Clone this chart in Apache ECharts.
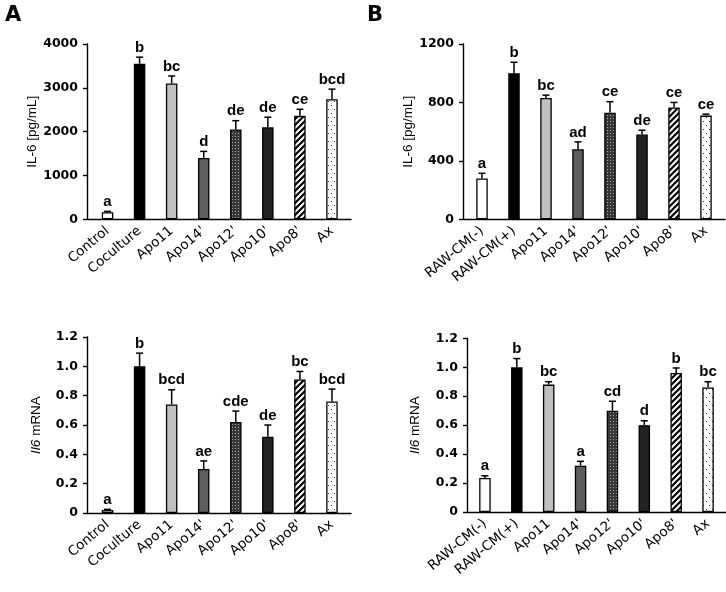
<!DOCTYPE html>
<html>
<head>
<meta charset="utf-8">
<script src="https://cdn.jsdelivr.net/npm/echarts@6/dist/echarts.min.js"></script>
<style>html,body{margin:0;padding:0;background:#fff}#c{width:726px;height:592px}</style>
</head>
<body>
<div id="c"></div>
<script>
// ---------- data ----------
const catsA = ['Control', 'Coculture', 'Apo11', "Apo14'", "Apo12'", "Apo10'", "Apo8'", 'Ax'];
const catsB = ['RAW-CM(-)', 'RAW-CM(+)', 'Apo11', "Apo14'", "Apo12'", "Apo10'", "Apo8'", 'Ax'];

const il6A = [160, 3550, 3100, 1400, 2050, 2100, 2360, 2740];
const il6AErr = [20, 150, 170, 150, 200, 230, 150, 230];
const il6ALetters = ['a', 'b', 'bc', 'd', 'de', 'de', 'ce', 'bcd'];

const il6B = [280, 1000, 830, 480, 730, 580, 765, 710];
const il6BErr = [35, 75, 20, 50, 75, 30, 35, 10];
const il6BLetters = ['a', 'b', 'bc', 'ad', 'ce', 'de', 'ce', 'ce'];

const mrnaA = [0.02, 1.0, 0.74, 0.30, 0.62, 0.52, 0.91, 0.76];
const mrnaAErr = [0.005, 0.09, 0.10, 0.055, 0.075, 0.08, 0.055, 0.085];
const mrnaALetters = ['a', 'b', 'bcd', 'ae', 'cde', 'de', 'bc', 'bcd'];

const mrnaB = [0.235, 1.0, 0.88, 0.32, 0.70, 0.60, 0.96, 0.86];
const mrnaBErr = [0.015, 0.06, 0.02, 0.03, 0.065, 0.03, 0.035, 0.04];
const mrnaBLetters = ['a', 'b', 'bc', 'a', 'cd', 'd', 'b', 'bc'];

const il6Ticks = { A: { max: 4000, interval: 1000 }, B: { max: 1200, interval: 400 } };
const mrnaTicks = { max: 1.2, interval: 0.2 };

// ---------- styles ----------
function pattern(kind) {
  const c = document.createElement('canvas');
  const ctx = c.getContext('2d');
  if (kind === 'darkdots') {
    c.width = 3; c.height = 3;
    ctx.fillStyle = '#383838'; ctx.fillRect(0, 0, 3, 3);
    ctx.fillStyle = '#a8a8a8'; ctx.fillRect(1, 1, 1, 1);
  } else if (kind === 'stripes') {
    c.width = 6; c.height = 6;
    ctx.fillStyle = '#fff'; ctx.fillRect(0, 0, 6, 6);
    ctx.strokeStyle = '#000'; ctx.lineWidth = 2.2;
    ctx.beginPath();
    ctx.moveTo(-1, 7); ctx.lineTo(7, -1);
    ctx.moveTo(-4, 4); ctx.lineTo(4, -4);
    ctx.moveTo(2, 10); ctx.lineTo(10, 2);
    ctx.stroke();
  } else {
    c.width = 6; c.height = 8;
    ctx.fillStyle = '#fff'; ctx.fillRect(0, 0, 6, 8);
    ctx.fillStyle = '#333'; ctx.fillRect(1, 1, 1, 1); ctx.fillRect(4, 5, 1, 1);
  }
  return { image: c, repeat: 'repeat' };
}
const fills = ['#ffffff', '#000000', '#c0c0c0', '#5e5e5e', pattern('darkdots'), '#232323', pattern('stripes'), pattern('sparse')];

const layout = [
  { axisLeft: 87, barLeft: 91.5, right: 348, top: 44, bottom: 219.3, nameGap: 47 },
  { axisLeft: 463, barLeft: 466, right: 722, top: 44, bottom: 219.3, nameGap: 44 },
  { axisLeft: 87, barLeft: 91.5, right: 348, top: 337, bottom: 513, nameGap: 44 },
  { axisLeft: 467, barLeft: 469, right: 724, top: 338.3, bottom: 512, nameGap: 45 }
];

const panels = [
  { cats: catsA, vals: il6A, errs: il6AErr, letters: il6ALetters, ticks: il6Ticks.A, name: 'IL-6 [pg/mL]', fmt: v => String(v) },
  { cats: catsB, vals: il6B, errs: il6BErr, letters: il6BLetters, ticks: il6Ticks.B, name: 'IL-6 [pg/mL]', fmt: v => String(v) },
  { cats: catsA, vals: mrnaA, errs: mrnaAErr, letters: mrnaALetters, ticks: mrnaTicks, name: '{i|Il6} mRNA', fmt: v => v === 0 ? '0' : v.toFixed(1) },
  { cats: catsB, vals: mrnaB, errs: mrnaBErr, letters: mrnaBLetters, ticks: mrnaTicks, name: '{i|Il6} mRNA', fmt: v => v === 0 ? '0' : v.toFixed(1) }
];

const grid = [], xAxis = [], yAxis = [], series = [];
const axisLineStyle = { color: '#000', width: 1.4 };

panels.forEach((p, k) => {
  const L = layout[k];
  const h = L.bottom - L.top;
  // axis grid (draws y axis and bottom line)
  const ga = grid.length;
  grid.push({ left: L.axisLeft, top: L.top, width: L.right + 3 - L.axisLeft, height: h });
  xAxis.push({ gridIndex: ga, type: 'value', min: 0, max: 1, position: 'bottom',
    axisLine: { show: true, lineStyle: axisLineStyle }, axisTick: { show: false }, axisLabel: { show: false }, splitLine: { show: false } });
  yAxis.push({ gridIndex: ga, type: 'value', min: 0, max: p.ticks.max, interval: p.ticks.interval,
    axisLine: { show: true, lineStyle: axisLineStyle },
    axisTick: { show: true, length: 4, inside: false, lineStyle: axisLineStyle },
    axisLabel: { show: true, margin: 9, formatter: p.fmt, color: '#000', fontFamily: 'DejaVu Sans', fontWeight: 'bold', fontSize: 12.5 },
    splitLine: { show: false },
    name: p.name, nameLocation: 'middle', nameRotate: 90, nameGap: L.nameGap,
    nameTextStyle: { color: '#000', fontFamily: 'Liberation Sans', fontSize: 13.5,
      rich: { i: { fontStyle: 'italic', fontFamily: 'Liberation Sans', fontSize: 13.5, color: '#000' } } } });
  // bar grid
  const gb = grid.length;
  grid.push({ left: L.barLeft, top: L.top, width: L.right - L.barLeft, height: h });
  const xi = xAxis.length;
  xAxis.push({ gridIndex: gb, type: 'category', data: p.cats, boundaryGap: true,
    axisLine: { show: false }, axisTick: { show: false },
    axisLabel: { rotate: 40, margin: 10, color: '#000', fontFamily: 'DejaVu Sans', fontSize: 13.5, interval: 0 } });
  const yi = yAxis.length;
  yAxis.push({ gridIndex: gb, type: 'value', min: 0, max: p.ticks.max, show: false, splitLine: { show: false } });

  series.push({
    type: 'bar', xAxisIndex: xi, yAxisIndex: yi, barWidth: 11.5, z: 3,
    data: p.vals.map((v, i) => ({ value: v, itemStyle: { color: fills[i], borderColor: '#000', borderWidth: 1.3 } }))
  });
  series.push({
    type: 'custom', xAxisIndex: xi, yAxisIndex: yi, z: 2,
    data: p.vals.map((v, i) => [i, v, p.errs[i]]),
    renderItem: (params, api) => {
      const i = api.value(0), v = api.value(1), e = api.value(2);
      const p0 = api.coord([i, v]);
      const p1 = api.coord([i, v + e]);
      const st = { stroke: '#000', lineWidth: 1.5 };
      return {
        type: 'group',
        children: [
          { type: 'line', shape: { x1: p0[0], y1: p0[1], x2: p1[0], y2: p1[1] }, style: st },
          { type: 'line', shape: { x1: p1[0] - 3.5, y1: p1[1], x2: p1[0] + 3.5, y2: p1[1] }, style: st },
          { type: 'text', style: { text: p.letters[params.dataIndex], x: p1[0], y: p1[1] - 2, align: 'center', verticalAlign: 'bottom',
            fontFamily: 'Liberation Sans', fontWeight: 'bold', fontSize: 15, fill: '#000' } }
        ]
      };
    }
  });
});

const chart = echarts.init(document.getElementById('c'), null, { renderer: 'canvas' });
chart.setOption({
  animation: false,
  backgroundColor: '#fff',
  title: [
    { text: 'A', left: 0, top: 0, textStyle: { fontFamily: 'DejaVu Sans', fontWeight: 'bold', fontSize: 21, color: '#000' } },
    { text: 'B', left: 362, top: 0, textStyle: { fontFamily: 'DejaVu Sans', fontWeight: 'bold', fontSize: 21, color: '#000' } }
  ],
  grid, xAxis, yAxis, series
});
</script>
</body>
</html>
